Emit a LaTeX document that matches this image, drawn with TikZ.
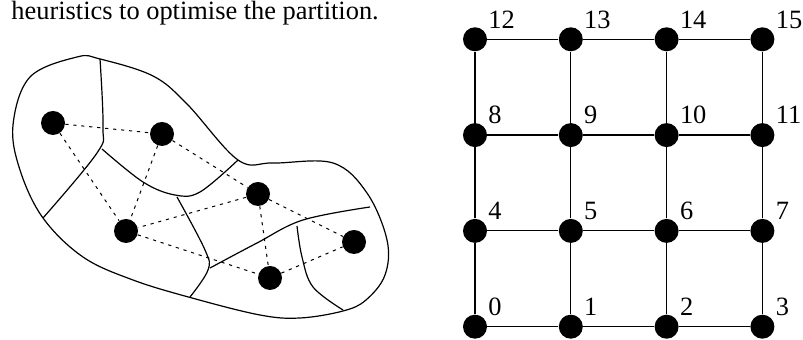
\documentclass[tikz,border=0pt]{standalone}
\usepackage{fontspec}
\setmainfont{Liberation Serif}

\tikzset{
  dot/.style={circle, fill=black, inner sep=0pt, minimum size=12pt},
  nlabel/.style={anchor=base west, inner sep=0pt, font=\fontsize{13.2}{16}\selectfont},
  cut/.style={line width=0.6pt},
  link/.style={line width=0.5pt, dash pattern=on 1.6pt off 2.4pt},
}

\begin{document}
\begin{tikzpicture}[x=0.5pt, y=-0.5pt]
  \useasboundingbox (0,0) rectangle (803,340);

  % Caption line
  \node[nlabel] (cap) at (11,20) {heuristics to optimise the partition.};

  % Domain outline
  \draw[cut] plot[smooth cycle, tension=0.6] coordinates {
    (13,125) (30,77) (77,57) (100,59) (153,76) (187,104) (238,160)
    (273,163) (333,163) (367,193) (387,240) (385,275) (366,300)
    (343,311) (300,318) (260,315) (192,298) (133,280) (83,257)
    (43,218) (20,170)};

  % Partition boundaries
  \draw[cut] plot[smooth, tension=0.6] coordinates {(100,59) (103,127) (97,153) (43,218)};
  \draw[cut] plot[smooth, tension=0.6] coordinates {(102,149) (143,182) (175,195) (200,192) (238,160)};
  \draw[cut] plot[smooth, tension=0.6] coordinates {(177,197) (205,250) (208,270) (190,297)};
  \draw[cut] plot[smooth, tension=0.6] coordinates {(210,268) (257,243) (303,220) (370,207)};
  \draw[cut] plot[smooth, tension=0.6] coordinates {(297,226) (302,257) (313,287) (343,310)};

  % Sub-domain nodes
  \node[dot] (pa) at (53,123) {};
  \node[dot] (pb) at (162,134) {};
  \node[dot] (pc) at (258,194) {};
  \node[dot] (pd) at (126,231) {};
  \node[dot] (pe) at (354,242) {};
  \node[dot] (pf) at (270,278) {};

  % Communication links
  \foreach \a/\b in {pa/pb, pa/pd, pb/pd, pb/pc, pc/pd, pc/pe, pc/pf, pd/pf, pf/pe}
    \draw[link] (\a) -- (\b);

  % Processor mesh
  \foreach \j in {0,...,3}
    \foreach \i in {0,...,3} {
      \pgfmathtruncatemacro\n{4*\j+\i}
      \node[dot] (g\n) at ({475+95.8*\i},{326.7-95.8*\j}) {};
      \node[nlabel] (l\n) at ({488+95.8*\i},{315.5-95.8*\j}) {\n};
    }

  % Mesh links
  \foreach \j in {0,...,3}
    \foreach \i in {0,...,2} {
      \pgfmathtruncatemacro\n{4*\j+\i}
      \pgfmathtruncatemacro\m{\n+1}
      \draw[cut] (g\n) -- (g\m);
    }
  \foreach \j in {0,...,2}
    \foreach \i in {0,...,3} {
      \pgfmathtruncatemacro\n{4*\j+\i}
      \pgfmathtruncatemacro\m{\n+4}
      \draw[cut] (g\n) -- (g\m);
    }
\end{tikzpicture}
\end{document}
